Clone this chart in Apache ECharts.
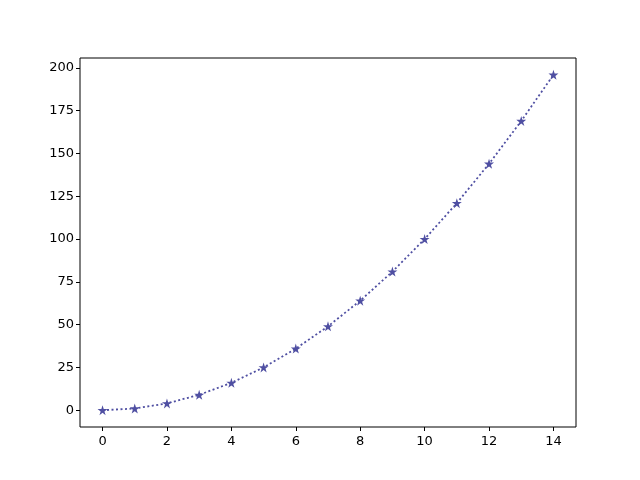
<!DOCTYPE html>
<html>
<head>
<meta charset="utf-8">
<script src="https://cdn.jsdelivr.net/npm/echarts@6/dist/echarts.min.js"></script>
<style>html,body{margin:0;padding:0;background:#fff}#c{width:640px;height:480px}</style>
</head>
<body>
<div id="c"></div>
<script>
const xValues = [0,1,2,3,4,5,6,7,8,9,10,11,12,13,14];
const yValues = [0,1,4,9,16,25,36,49,64,81,100,121,144,169,196];
const xTicks = [0,2,4,6,8,10,12,14];
const yTicks = [0,25,50,75,100,125,150,175,200];

function starPath(){
  const pts=[];
  for(let i=0;i<10;i++){
    const r = i%2===0 ? 1 : 0.381966;
    const a = -Math.PI/2 + i*Math.PI/5;
    pts.push((50+50*r*Math.cos(a)).toFixed(2)+','+(50+50*r*Math.sin(a)).toFixed(2));
  }
  return 'path://M'+pts.join('L')+'Z';
}
const color = '#4f4fa2';
const chart = echarts.init(document.getElementById('c'), null, {renderer:'canvas'});
const tickStyle = {show:true, inside:false, length:4, lineStyle:{color:'#000', width:1}};
const labelStyle = {color:'#000', fontFamily:'DejaVu Sans', fontSize:13, margin:6};
chart.setOption({
  animation:false,
  grid:{left:80, right:64, top:58, bottom:53, show:true, borderColor:'#000', borderWidth:1, backgroundColor:'transparent'},
  xAxis:{type:'value', min:-0.7, max:14.7, position:'bottom',
    axisLine:{show:false, onZero:false}, splitLine:{show:false},
    axisTick:Object.assign({}, tickStyle, {customValues:xTicks}),
    axisLabel:Object.assign({}, labelStyle, {customValues:xTicks, margin:8})},
  yAxis:{type:'value', min:-9.8, max:205.8, position:'left',
    axisLine:{show:false, onZero:false}, splitLine:{show:false},
    axisTick:Object.assign({}, tickStyle, {customValues:yTicks}),
    axisLabel:Object.assign({}, labelStyle, {customValues:yTicks})},
  series:[{
    type:'line',
    data:xValues.map((x,i)=>[x,yValues[i]]),
    symbol:starPath(), symbolSize:10, showAllSymbol:true,
    itemStyle:{color:color, borderWidth:0},
    lineStyle:{color:color, width:1.8, type:[2,2.5]}
  }]
});
</script>
</body>
</html>
